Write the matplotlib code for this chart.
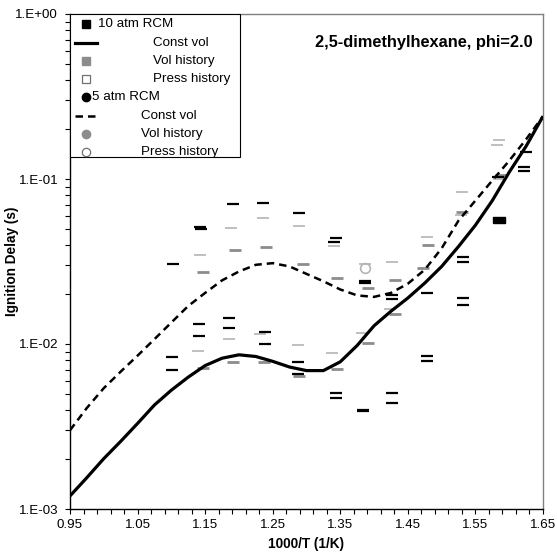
import numpy as np
import matplotlib
matplotlib.use("Agg")
import matplotlib.pyplot as plt
from matplotlib.ticker import FixedLocator, FixedFormatter, LogLocator, NullFormatter
from matplotlib.lines import Line2D
from matplotlib.patches import Rectangle

plt.rcParams['font.family'] = ['Liberation Sans', 'DejaVu Sans']

# ---------------- data ----------------
curve_x = [0.95, 0.975, 1.00, 1.025, 1.05, 1.075, 1.10, 1.125, 1.15, 1.175, 1.20, 1.225,
           1.25, 1.275, 1.30, 1.325, 1.35, 1.375, 1.40, 1.425, 1.45, 1.475, 1.50, 1.525,
           1.55, 1.575, 1.60, 1.625, 1.65]
const_vol_10atm = [0.00120, 0.00155, 0.00202, 0.00257, 0.00330, 0.00427, 0.00525, 0.00630,
                   0.00740, 0.00820, 0.00860, 0.00840, 0.00785, 0.00725, 0.00690, 0.00690,
                   0.00780, 0.00980, 0.01290, 0.01580, 0.01900, 0.02340, 0.02950, 0.03900,
                   0.05250, 0.07400, 0.11000, 0.15800, 0.24000]
const_vol_5atm = [0.00300, 0.00410, 0.00540, 0.00680, 0.00850, 0.01070, 0.01350, 0.01700,
                  0.02040, 0.02430, 0.02750, 0.03020, 0.03090, 0.02950, 0.02660, 0.02400,
                  0.02140, 0.01970, 0.01930, 0.02040, 0.02320, 0.02820, 0.03800, 0.05600,
                  0.07400, 0.09800, 0.12900, 0.17400, 0.24000]

rcm10_x = [1.101, 1.101, 1.141, 1.141, 1.185, 1.185, 1.239, 1.239, 1.287, 1.287, 1.344, 1.344,
           1.383, 1.383, 1.426, 1.426, 1.478, 1.478, 1.531, 1.531, 1.622, 1.622]
rcm10_y = [0.00834, 0.00695, 0.0132, 0.0112, 0.0144, 0.01245, 0.01183, 0.00996, 0.00778, 0.00655,
           0.00502, 0.00469, 0.0040, 0.0039, 0.00505, 0.0044, 0.0085, 0.0079, 0.0189, 0.0172,
           0.118, 0.112]
rcm10_big_x = [1.585]
rcm10_big_y = [0.0565]

rcm5_x = [1.103, 1.142, 1.144, 1.191, 1.235, 1.289, 1.344, 1.341, 1.387, 1.387, 1.426, 1.426,
          1.478, 1.531, 1.531, 1.583, 1.625]
rcm5_y = [0.0304, 0.0514, 0.0495, 0.0705, 0.0718, 0.0619, 0.0441, 0.0418, 0.0241, 0.0235,
          0.0198, 0.0188, 0.0203, 0.0338, 0.0316, 0.103, 0.146]

vol10_x = [1.147, 1.191, 1.237, 1.289, 1.345, 1.391, 1.431, 1.472]
vol10_y = [0.00718, 0.00774, 0.00776, 0.00640, 0.0071, 0.0102, 0.0152, 0.0288]

vol5_x = [1.147, 1.194, 1.240, 1.295, 1.345, 1.391, 1.431, 1.480, 1.530, 1.588]
vol5_y = [0.0274, 0.0372, 0.0386, 0.0306, 0.0251, 0.0217, 0.0244, 0.0398, 0.0628, 0.106]

press10_x = [1.140, 1.185, 1.231, 1.287, 1.337, 1.382, 1.424, 1.528, 1.585]
press10_y = [0.00908, 0.01076, 0.0115, 0.00982, 0.00885, 0.0116, 0.0162, 0.0601, 0.0995]

press5_x = [1.143, 1.189, 1.235, 1.289, 1.340, 1.387, 1.426, 1.478, 1.530, 1.585, 1.582]
press5_y = [0.0346, 0.0502, 0.0581, 0.0519, 0.0394, 0.0304, 0.0316, 0.0447, 0.083, 0.172, 0.161]
press5_circle_x = [1.387]
press5_circle_y = [0.0288]

x_ticks = [0.95, 1.05, 1.15, 1.25, 1.35, 1.45, 1.55, 1.65]
x_tick_labels = ["0.95", "1.05", "1.15", "1.25", "1.35", "1.45", "1.55", "1.65"]
y_ticks = [1e-3, 1e-2, 1e-1, 1e0]
y_tick_labels = ["1.E-03", "1.E-02", "1.E-01", "1.E+00"]

# ---------------- figure ----------------
W, H = 557, 555
fig = plt.figure(figsize=(W / 100, H / 100), dpi=100)
L, R, T, B = 70, 543, 14, 509
ax = fig.add_axes([L / W, 1 - B / H, (R - L) / W, (B - T) / H])
ax.set_yscale('log')
ax.set_xlim(0.95, 1.65)
ax.set_ylim(1e-3, 1.0)

BLACK = '#000000'
GRAY = '#8c8c8c'
LIGHT = '#b4b4b4'

ms = 8
ax.plot(press10_x, press10_y, ls='none', marker='_', ms=ms, mew=1.2, color=LIGHT, zorder=2)
ax.plot(press5_x, press5_y, ls='none', marker='_', ms=ms, mew=1.2, color=LIGHT, zorder=2)
ax.plot(press5_circle_x, press5_circle_y, ls='none', marker='o', ms=7, mfc='none', mec=LIGHT,
        mew=1.2, zorder=2)
ax.plot(vol10_x, vol10_y, ls='none', marker='_', ms=ms, mew=2.0, color=GRAY, zorder=3)
ax.plot(vol5_x, vol5_y, ls='none', marker='_', ms=ms, mew=2.0, color=GRAY, zorder=3)
ax.plot(rcm10_x, rcm10_y, ls='none', marker='_', ms=ms, mew=1.6, color=BLACK, zorder=4)
ax.plot(rcm5_x, rcm5_y, ls='none', marker='_', ms=ms, mew=1.6, color=BLACK, zorder=4)
rect_marker = [(-1, -0.5), (1, -0.5), (1, 0.5), (-1, 0.5), (-1, -0.5)]
ax.plot(rcm10_big_x, rcm10_big_y, ls='none', marker=rect_marker, ms=8, color=BLACK, zorder=4)

ax.plot(curve_x, const_vol_10atm, color=BLACK, lw=2.3, zorder=5, solid_capstyle='butt')
ax.plot(curve_x, const_vol_5atm, color=BLACK, lw=1.8, ls=(0, (3, 2)), zorder=5)

# ticks
ax.xaxis.set_major_locator(FixedLocator(x_ticks))
ax.xaxis.set_major_formatter(FixedFormatter(x_tick_labels))
ax.xaxis.set_minor_locator(FixedLocator(list(np.arange(0.95, 1.6501, 0.02))))
ax.yaxis.set_major_locator(FixedLocator(y_ticks))
ax.yaxis.set_major_formatter(FixedFormatter(y_tick_labels))
ax.yaxis.set_minor_locator(LogLocator(base=10, subs=np.arange(2, 10)))
ax.yaxis.set_minor_formatter(NullFormatter())
ax.tick_params(which='both', direction='out', length=3.5, width=0.8, labelsize=9.6,
               top=False, right=False)
ax.tick_params(axis='y', pad=5)
ax.tick_params(axis='x', pad=4)

for s in ['left', 'bottom']:
    ax.spines[s].set_color('black')
    ax.spines[s].set_linewidth(1.0)
for s in ['top', 'right']:
    ax.spines[s].set_color('#808080')
    ax.spines[s].set_linewidth(1.0)

ax.set_xlabel('1000/T (1/K)', fontsize=9.8, fontweight='bold', labelpad=4)
ax.set_ylabel('Ignition Delay (s)', fontsize=9.8, fontweight='bold')
ax.yaxis.set_label_coords((19 - L) / (R - L), 0.5)

ax.text((533 - L) / (R - L), (B - 42) / (B - T), '2,5-dimethylhexane, phi=2.0',
        transform=ax.transAxes, ha='right', va='center', fontsize=11.8, fontweight='bold')

# ---------------- manual legend ----------------
def fx(px):
    return (px - L) / (R - L)

def fy(py):
    return (B - py) / (B - T)

leg_box = Rectangle((0, fy(157)), fx(240), 1 - fy(157), transform=ax.transAxes,
                    facecolor='white', edgecolor='black', lw=0.8, zorder=10)
ax.add_patch(leg_box)

rows = [24.3, 43, 61, 79, 97, 116, 134, 152]
entries = [
    ('10 atm RCM', 98, dict(marker='s', ms=6, mfc=BLACK, mec=BLACK), None),
    ('Const vol', 153, None, '-'),
    ('Vol history', 153, dict(marker='s', ms=6, mfc=GRAY, mec=GRAY), None),
    ('Press history', 153, dict(marker='s', ms=6, mfc='white', mec='#707070', mew=0.9), None),
    ('5 atm RCM', 92, dict(marker='o', ms=6, mfc=BLACK, mec=BLACK), None),
    ('Const vol', 141, None, 'dash'),
    ('Vol history', 141, dict(marker='o', ms=6, mfc=GRAY, mec=GRAY), None),
    ('Press history', 141, dict(marker='o', ms=6, mfc='white', mec='#707070', mew=0.9), None),
]
for (label, tx, mk, ln), ry in zip(entries, rows):
    yy = fy(ry)
    if mk is not None:
        ax.add_line(Line2D([fx(86)], [yy], transform=ax.transAxes, ls='none', zorder=11,
                           clip_on=False, **mk))
    if ln == '-':
        ax.add_line(Line2D([fx(75), fx(97)], [yy, yy], transform=ax.transAxes, color=BLACK,
                           lw=2.3, zorder=11, clip_on=False))
    elif ln == 'dash':
        ax.add_line(Line2D([fx(75), fx(97)], [yy, yy], transform=ax.transAxes, color=BLACK,
                           lw=1.8, ls=(0, (3, 2)), zorder=11, clip_on=False))
    ax.text(fx(tx), yy, label, transform=ax.transAxes, ha='left', va='center', fontsize=9.6,
            zorder=12)

fig.savefig('out.png', dpi=100)
